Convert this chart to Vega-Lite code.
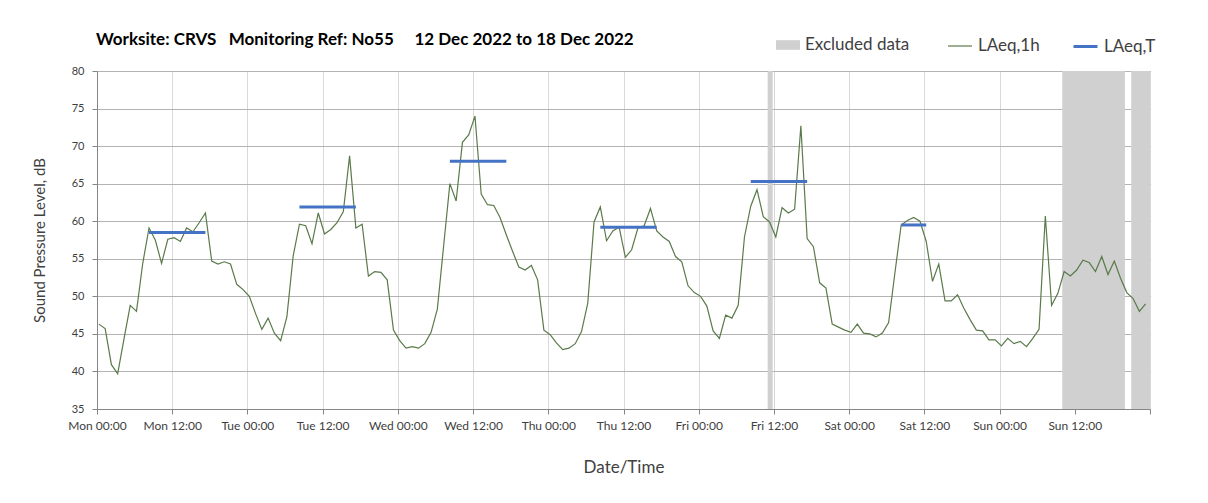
{
  "$schema": "https://vega.github.io/schema/vega-lite/v6.json",
  "width": 1053,
  "height": 338,
  "autosize": {"type": "none"},
  "padding": {"left": 97, "top": 71, "right": 58, "bottom": 94},
  "background": "white",
  "config": {
    "font": "Lato",
    "view": {"stroke": "#a6a6a6", "strokeWidth": 1}
  },
  "title": {
    "text": "Worksite: CRVS\u00a0\u00a0\u00a0Monitoring Ref: No55\u00a0\u00a0\u00a0\u00a0\u00a012 Dec 2022 to 18 Dec 2022",
    "anchor": "start",
    "frame": "group",
    "fontSize": 17,
    "fontWeight": "bold",
    "color": "#000000",
    "offset": 22,
    "dx": -1,
    "dy": 38
  },
  "resolve": {"scale": {"color": "independent"}},
  "datasets": {
    "hourly": [
      {"h":0,"v":46.3},{"h":1,"v":45.7},{"h":2,"v":40.9},{"h":3,"v":39.7},{"h":4,"v":44.3},{"h":5,"v":48.8},{"h":6,"v":48.0},{"h":7,"v":54.4},
      {"h":8,"v":59.1},{"h":9,"v":57.5},{"h":10,"v":54.4},{"h":11,"v":57.6},{"h":12,"v":57.8},{"h":13,"v":57.3},{"h":14,"v":59.1},{"h":15,"v":58.6},
      {"h":16,"v":59.8},{"h":17,"v":61.1},{"h":18,"v":54.7},{"h":19,"v":54.3},{"h":20,"v":54.6},{"h":21,"v":54.3},{"h":22,"v":51.6},{"h":23,"v":50.9},
      {"h":24,"v":50.0},{"h":25,"v":47.7},{"h":26,"v":45.6},{"h":27,"v":47.1},{"h":28,"v":45.1},{"h":29,"v":44.1},{"h":30,"v":47.3},{"h":31,"v":55.4},
      {"h":32,"v":59.6},{"h":33,"v":59.4},{"h":34,"v":57.0},{"h":35,"v":61.1},{"h":36,"v":58.3},{"h":37,"v":58.9},{"h":38,"v":59.8},{"h":39,"v":61.3},
      {"h":40,"v":68.7},{"h":41,"v":59.1},{"h":42,"v":59.6},{"h":43,"v":52.7},{"h":44,"v":53.3},{"h":45,"v":53.2},{"h":46,"v":52.2},{"h":47,"v":45.5},
      {"h":48,"v":44.1},{"h":49,"v":43.1},{"h":50,"v":43.3},{"h":51,"v":43.1},{"h":52,"v":43.7},{"h":53,"v":45.2},{"h":54,"v":48.3},{"h":55,"v":56.7},
      {"h":56,"v":65.0},{"h":57,"v":62.7},{"h":58,"v":70.5},{"h":59,"v":71.5},{"h":60,"v":74.0},{"h":61,"v":63.6},{"h":62,"v":62.2},{"h":63,"v":62.1},
      {"h":64,"v":60.5},{"h":65,"v":58.2},{"h":66,"v":56.0},{"h":67,"v":53.9},{"h":68,"v":53.5},{"h":69,"v":54.1},{"h":70,"v":52.2},{"h":71,"v":45.5},
      {"h":72,"v":44.9},{"h":73,"v":43.8},{"h":74,"v":42.9},{"h":75,"v":43.1},{"h":76,"v":43.7},{"h":77,"v":45.3},{"h":78,"v":49.1},{"h":79,"v":59.9},
      {"h":80,"v":61.9},{"h":81,"v":57.4},{"h":82,"v":58.7},{"h":83,"v":59.2},{"h":84,"v":55.2},{"h":85,"v":56.2},{"h":86,"v":59.1},{"h":87,"v":59.4},
      {"h":88,"v":61.7},{"h":89,"v":58.7},{"h":90,"v":57.9},{"h":91,"v":57.3},{"h":92,"v":55.3},{"h":93,"v":54.6},{"h":94,"v":51.4},{"h":95,"v":50.5},
      {"h":96,"v":50.0},{"h":97,"v":48.7},{"h":98,"v":45.4},{"h":99,"v":44.4},{"h":100,"v":47.5},{"h":101,"v":47.1},{"h":102,"v":48.8},{"h":103,"v":57.9},
      {"h":104,"v":62.0},{"h":105,"v":64.2},{"h":106,"v":60.6},{"h":107,"v":59.9},{"h":108,"v":57.9},{"h":109,"v":61.8},{"h":110,"v":61.1},{"h":111,"v":61.6},
      {"h":112,"v":72.7},{"h":113,"v":57.7},{"h":114,"v":56.6},{"h":115,"v":51.8},{"h":116,"v":51.1},{"h":117,"v":46.3},{"h":118,"v":45.9},{"h":119,"v":45.5},
      {"h":120,"v":45.2},{"h":121,"v":46.3},{"h":122,"v":45.1},{"h":123,"v":45.0},{"h":124,"v":44.6},{"h":125,"v":45.1},{"h":126,"v":46.5},{"h":127,"v":53.1},
      {"h":128,"v":59.5},{"h":129,"v":60.1},{"h":130,"v":60.5},{"h":131,"v":60.0},{"h":132,"v":57.3},{"h":133,"v":52.0},{"h":134,"v":54.3},{"h":135,"v":49.4},
      {"h":136,"v":49.4},{"h":137,"v":50.2},{"h":138,"v":48.4},{"h":139,"v":46.9},{"h":140,"v":45.5},{"h":141,"v":45.4},{"h":142,"v":44.2},{"h":143,"v":44.2},
      {"h":144,"v":43.4},{"h":145,"v":44.4},{"h":146,"v":43.7},{"h":147,"v":44.0},{"h":148,"v":43.3},{"h":149,"v":44.4},{"h":150,"v":45.6},{"h":151,"v":60.7},
      {"h":152,"v":48.8},{"h":153,"v":50.4},{"h":154,"v":53.3},{"h":155,"v":52.7},{"h":156,"v":53.5},{"h":157,"v":54.8},{"h":158,"v":54.5},{"h":159,"v":53.3},
      {"h":160,"v":55.3},{"h":161,"v":52.9},{"h":162,"v":54.7},{"h":163,"v":52.4},{"h":164,"v":50.5},{"h":165,"v":49.7},{"h":166,"v":48.0},{"h":167,"v":49.0}
    ],
    "periods": [
      {"start": 8, "end": 17, "v": 58.5},
      {"start": 32, "end": 41, "v": 61.9},
      {"start": 56, "end": 65, "v": 68.0},
      {"start": 80, "end": 89, "v": 59.2},
      {"start": 104, "end": 113, "v": 65.3},
      {"start": 128, "end": 132, "v": 59.5}
    ],
    "excluded": [
      {"start": 106.7, "end": 107.5},
      {"start": 153.7, "end": 163.7},
      {"start": 164.7, "end": 167.7}
    ]
  },
  "encoding": {
    "x": {
      "type": "quantitative",
      "scale": {"domain": [-0.3, 167.7], "nice": false, "zero": false},
      "axis": {
        "title": "Date/Time",
        "titleFontSize": 17,
        "titleFontWeight": "normal",
        "titleColor": "#404040",
        "titlePadding": 28,
        "values": [-0.3, 11.7, 23.7, 35.7, 47.7, 59.7, 71.7, 83.7, 95.7, 107.7, 119.7, 131.7, 143.7, 155.7, 167.7],
        "labelExpr": "datum.value > 167 ? '' : ['Mon','Tue','Wed','Thu','Fri','Sat','Sun'][floor(round(datum.value)/24)] + (round(datum.value) % 24 == 0 ? ' 00:00' : ' 12:00')",
        "labelFontSize": 12,
        "labelColor": "#404040",
        "labelPadding": 6,
        "labelFlush": false,
        "labelOverlap": false,
        "tickSize": 5,
        "tickColor": "#868686",
        "domainColor": "#868686",
        "gridColor": "#d9d9d9",
        "grid": true
      }
    },
    "y": {
      "type": "quantitative",
      "scale": {"domain": [35, 80], "nice": false, "zero": false},
      "axis": {
        "title": "Sound Pressure Level, dB",
        "titleFontSize": 15,
        "titleFontWeight": "normal",
        "titleColor": "#404040",
        "titlePadding": 24,
        "values": [35, 40, 45, 50, 55, 60, 65, 70, 75, 80],
        "labelOverlap": false,
        "labelFontSize": 11,
        "labelColor": "#404040",
        "labelPadding": 8,
        "tickSize": 5,
        "tickColor": "#868686",
        "domainColor": "#868686",
        "gridColor": "#b3b3b3",
        "grid": true
      }
    }
  },
  "layer": [
    {
      "data": {"name": "excluded"},
      "mark": {"type": "rect", "opacity": 1},
      "encoding": {
        "x": {"field": "start", "type": "quantitative"},
        "x2": {"field": "end"},
        "y": {"datum": 80, "type": "quantitative"},
        "y2": {"datum": 35},
        "color": {
          "datum": "Excluded data",
          "type": "nominal",
          "scale": {"domain": ["Excluded data"], "range": ["#d0d0d0"]},
          "legend": {
            "title": null,
            "orient": "none",
            "legendX": 679,
            "legendY": -38,
            "labelFontSize": 17,
            "labelColor": "#404040",
            "labelOffset": 5,
            "symbolSize": 576,
            "symbolType": "M-1,-0.4H1V0.4H-1Z",
            "symbolStrokeWidth": 0,
            "symbolOpacity": 1
          }
        }
      }
    },
    {
      "data": {"name": "hourly"},
      "mark": {"type": "line", "strokeWidth": 1.2},
      "encoding": {
        "x": {"field": "h", "type": "quantitative"},
        "y": {"field": "v", "type": "quantitative"},
        "color": {
          "datum": "LAeq,1h",
          "type": "nominal",
          "scale": {"domain": ["LAeq,1h"], "range": ["#5a7a4a"]},
          "legend": {
            "title": null,
            "orient": "none",
            "legendX": 850,
            "legendY": -38,
            "labelFontSize": 17,
            "labelColor": "#404040",
            "labelOffset": 5,
            "symbolSize": 576,
            "symbolType": "stroke",
            "symbolStrokeWidth": 1.2
          }
        }
      }
    },
    {
      "data": {"name": "periods"},
      "mark": {"type": "rule", "strokeWidth": 3},
      "encoding": {
        "x": {"field": "start", "type": "quantitative"},
        "x2": {"field": "end"},
        "y": {"field": "v", "type": "quantitative"},
        "color": {
          "datum": "LAeq,T",
          "type": "nominal",
          "scale": {"domain": ["LAeq,T"], "range": ["#4472c4"]},
          "legend": {
            "title": null,
            "orient": "none",
            "legendX": 975,
            "legendY": -38,
            "labelFontSize": 17,
            "labelColor": "#404040",
            "labelOffset": 5,
            "symbolSize": 576,
            "symbolType": "stroke",
            "symbolStrokeWidth": 3
          }
        }
      }
    }
  ]
}
